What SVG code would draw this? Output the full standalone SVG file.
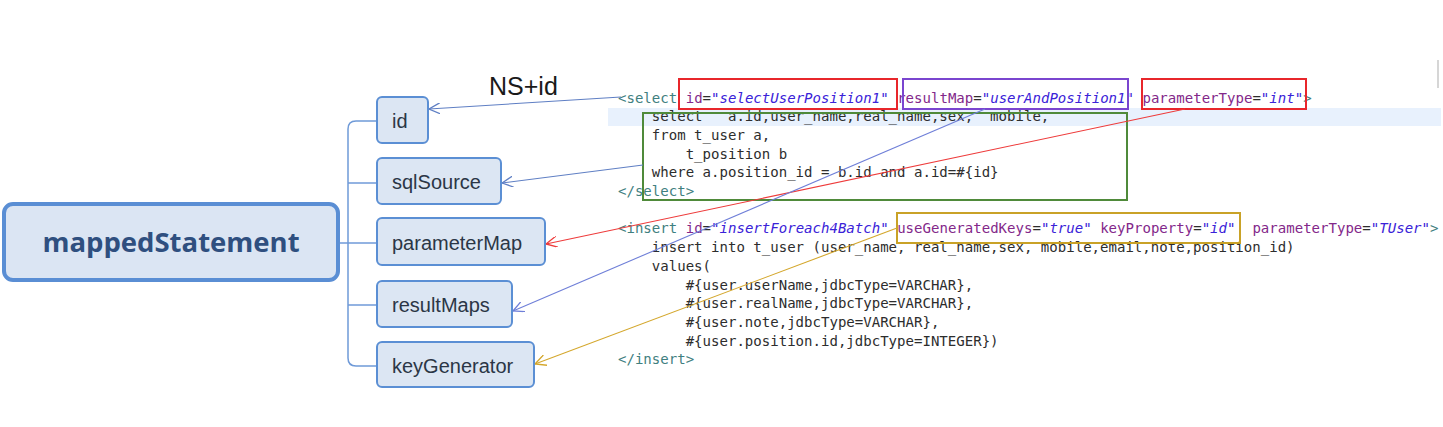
<svg xmlns="http://www.w3.org/2000/svg" width="1443" height="427" viewBox="0 0 1443 427">
<style>
.node rect{fill:#dce6f3;stroke:#5b8fd4;stroke-width:2}
.node text{font-family:"Liberation Sans",Arial,sans-serif;font-size:20px;fill:#2b3646}
.root rect{fill:#dbe5f3;stroke:#5a8ed4;stroke-width:4}
.root text{font-family:"Open Sans","Liberation Sans",sans-serif;font-size:27.5px;font-weight:bold;fill:#2f4f7f}
.tree{fill:none;stroke:#6f9ad8;stroke-width:1.5}
.code text{font-family:"DejaVu Sans Mono","Liberation Mono",monospace;font-size:14.05px;fill:#2d2d2d;white-space:pre}
.tag{fill:#3f8080}
.an{fill:#83288a}
.av{fill:#3a22d8;font-style:italic}
.hl{fill:none;stroke-width:2}
.conn{fill:none;stroke-width:1.1}
</style>
<defs>
<marker id="mBlue" viewBox="0 0 10 10" refX="10" refY="5" markerWidth="11" markerHeight="11" markerUnits="userSpaceOnUse" orient="auto"><path d="M0,0 L10,5 L0,10" fill="none" stroke="#5f7fc4" stroke-width="1.2"/></marker>
<marker id="mPurple" viewBox="0 0 10 10" refX="10" refY="5" markerWidth="11" markerHeight="11" markerUnits="userSpaceOnUse" orient="auto"><path d="M0,0 L10,5 L0,10" fill="none" stroke="#6f7fd8" stroke-width="1.2"/></marker>
<marker id="mRed" viewBox="0 0 10 10" refX="10" refY="5" markerWidth="11" markerHeight="11" markerUnits="userSpaceOnUse" orient="auto"><path d="M0,0 L10,5 L0,10" fill="none" stroke="#ee3b3b" stroke-width="1.2"/></marker>
<marker id="mGold" viewBox="0 0 10 10" refX="10" refY="5" markerWidth="11" markerHeight="11" markerUnits="userSpaceOnUse" orient="auto"><path d="M0,0 L10,5 L0,10" fill="none" stroke="#d4a72c" stroke-width="1.2"/></marker>
</defs>
<rect width="1443" height="427" fill="#ffffff"/>
<!-- highlighted editor line -->
<rect x="608" y="108" width="833" height="18" fill="#e8f1fd"/>
<rect x="1437" y="60" width="2" height="28" fill="#d6d6d6"/>

<!-- tree lines -->
<g id="tree" class="tree">
<path d="M340,243 L377,243"/>
<path d="M377,121 L356,121 Q348,121 348,129 L348,358 Q348,366 356,366 L377,366"/>
<path d="M348,183 L377,183"/>
<path d="M348,305 L377,305"/>
</g>

<g id="mappedStatement" class="root">
<rect x="4" y="204" width="334" height="76" rx="9"/>
<text x="171" y="252" text-anchor="middle">mappedStatement</text>
</g>
<g id="node-id" class="node"><rect x="377" y="97" width="51" height="46" rx="5"/><text x="392" y="128">id</text></g>
<g id="node-sqlSource" class="node"><rect x="377" y="158" width="124" height="46" rx="5"/><text x="392" y="189">sqlSource</text></g>
<g id="node-parameterMap" class="node"><rect x="377" y="218" width="168" height="47" rx="5"/><text x="392" y="250">parameterMap</text></g>
<g id="node-resultMaps" class="node"><rect x="377" y="281" width="135" height="46" rx="5"/><text x="392" y="312">resultMaps</text></g>
<g id="node-keyGenerator" class="node"><rect x="377" y="342" width="157" height="45" rx="5"/><text x="392" y="373">keyGenerator</text></g>

<text id="ns-label" x="489" y="95" font-family="Liberation Sans,Arial,sans-serif" font-size="25" fill="#1a1a1a">NS+id</text>

<!-- code -->
<g id="code" class="code">
<text xml:space="preserve" x="618" y="102.5"><tspan class="tag">&lt;select</tspan> <tspan class="an">id</tspan>=<tspan class="av">"selectUserPosition1"</tspan> <tspan class="an">resultMap</tspan>=<tspan class="av">"userAndPosition1"</tspan> <tspan class="an">parameterType</tspan>=<tspan class="av">"int"</tspan><tspan class="tag">&gt;</tspan></text>
<text xml:space="preserve" x="618" y="121.2">    select   a.id,user_name,real_name,sex,  mobile,</text>
<text xml:space="preserve" x="618" y="139.9">    from t_user a,</text>
<text xml:space="preserve" x="618" y="158.6">        t_position b</text>
<text xml:space="preserve" x="618" y="177.3">    where a.position_id = b.id and a.id=#{id}</text>
<text xml:space="preserve" x="618" y="196"><tspan class="tag">&lt;/select&gt;</tspan></text>
<text xml:space="preserve" x="618" y="233.4"><tspan class="tag">&lt;insert</tspan> <tspan class="an">id</tspan>=<tspan class="av">"insertForeach4Batch"</tspan> <tspan class="an">useGeneratedKeys</tspan>=<tspan class="av">"true"</tspan> <tspan class="an">keyProperty</tspan>=<tspan class="av">"id"</tspan>  <tspan class="an">parameterType</tspan>=<tspan class="av">"TUser"</tspan><tspan class="tag">&gt;</tspan></text>
<text xml:space="preserve" x="618" y="252.1">    insert into t_user (user_name, real_name,sex, mobile,email,note,position_id)</text>
<text xml:space="preserve" x="618" y="270.8">    values(</text>
<text xml:space="preserve" x="618" y="289.5">        #{user.userName,jdbcType=VARCHAR},</text>
<text xml:space="preserve" x="618" y="308.2">        #{user.realName,jdbcType=VARCHAR},</text>
<text xml:space="preserve" x="618" y="326.9">        #{user.note,jdbcType=VARCHAR},</text>
<text xml:space="preserve" x="618" y="345.6">        #{user.position.id,jdbcType=INTEGER})</text>
<text xml:space="preserve" x="618" y="364.3"><tspan class="tag">&lt;/insert&gt;</tspan></text>
</g>

<!-- highlight boxes -->
<g id="highlights" class="hl">
<rect x="679" y="79" width="218" height="30" stroke="#e8262b"/>
<rect x="903" y="79" width="225" height="30" stroke="#7a45cf"/>
<rect x="1142" y="79" width="164" height="30" stroke="#e8262b"/>
<rect x="643" y="113" width="484" height="87" stroke="#4f8a3a"/>
<rect x="897" y="213" width="343" height="30" stroke="#c9a227"/>
</g>

<!-- connectors -->
<g id="connectors" class="conn">
<line x1="621" y1="97" x2="429" y2="109" stroke="#5f7fc4" marker-end="url(#mBlue)"/>
<line x1="643" y1="165" x2="502" y2="183" stroke="#5f7fc4" marker-end="url(#mBlue)"/>
<line x1="1185" y1="109" x2="546" y2="244" stroke="#ee3b3b" marker-end="url(#mRed)"/>
<line x1="985" y1="109" x2="513" y2="311" stroke="#6f7fd8" marker-end="url(#mPurple)"/>
<line x1="897" y1="228" x2="535" y2="364" stroke="#d4a72c" marker-end="url(#mGold)"/>
</g>
</svg>
